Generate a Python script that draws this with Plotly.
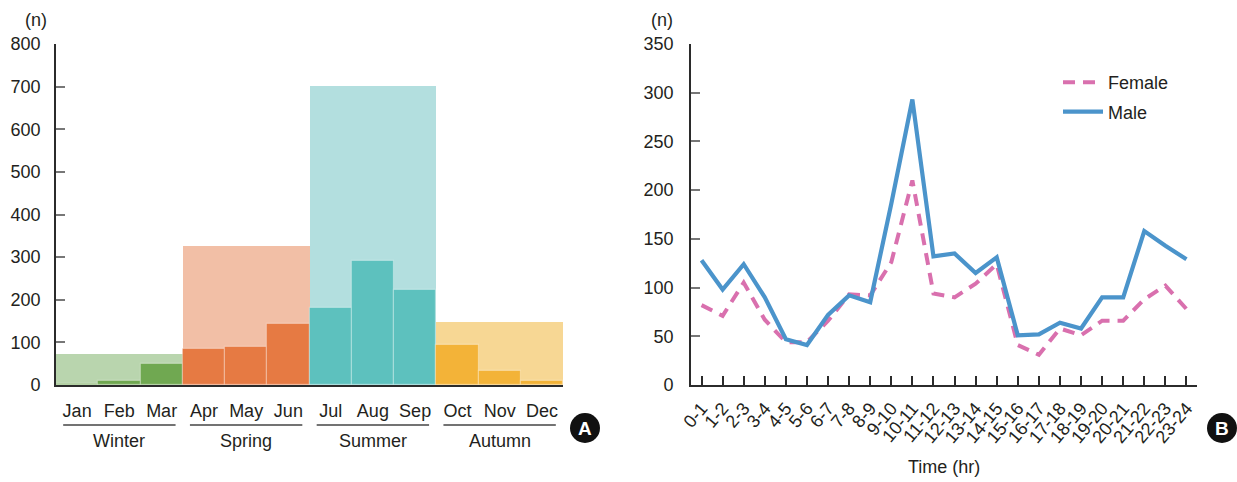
import numpy as np
import plotly.graph_objects as go

# ---------------- data ----------------
months = ["Jan", "Feb", "Mar", "Apr", "May", "Jun", "Jul", "Aug", "Sep", "Oct", "Nov", "Dec"]
month_counts = [2, 10, 50, 84, 90, 143, 180, 290, 222, 95, 33, 10]
seasons = ["Winter", "Spring", "Summer", "Autumn"]
season_counts = [73, 327, 702, 147]

hours = ["0-1", "1-2", "2-3", "3-4", "4-5", "5-6", "6-7", "7-8", "8-9", "9-10", "10-11", "11-12",
         "12-13", "13-14", "14-15", "15-16", "16-17", "17-18", "18-19", "19-20", "20-21", "21-22",
         "22-23", "23-24"]
female = [82, 71, 105, 67, 44, 44, 66, 93, 92, 126, 210, 94,
          90, 104, 124, 41, 31, 58, 51, 66, 66, 88, 102, 78]
male = [128, 98, 124, 90, 47, 41, 72, 92, 85, 186, 293, 132,
        135, 115, 131, 51, 52, 64, 58, 90, 90, 158, 143, 129]

# ---------------- styles ----------------
season_light = ["#b9d5ae", "#f2bfa6", "#b3dfdf", "#f7d794"]
season_dark = ["#70a851", "#e67a43", "#5dc1be", "#f3b338"]
axis_col = "#2b2b2b"
txt_col = "#231f20"
FONT = "Liberation Sans, Arial, sans-serif"

W, H = 1237, 482
def px(x):
    return x / W
def py(y):
    return 1 - y / H

fig = go.Figure()

# ---------------- panel A ----------------
month_idx = np.arange(len(months))
season_of_month = month_idx // 3
season_start = np.arange(len(seasons)) * 3

for s in range(len(seasons)):
    fig.add_trace(go.Bar(
        x=[season_start[s] + 1.5], y=[season_counts[s]], width=[3],
        marker=dict(color=season_light[s], line=dict(width=0)),
        xaxis="x", yaxis="y", showlegend=False, hoverinfo="y"))

for s in range(len(seasons)):
    sel = season_of_month == s
    fig.add_trace(go.Bar(
        x=month_idx[sel] + 0.5, y=np.array(month_counts)[sel], width=[1] * int(sel.sum()),
        marker=dict(color=season_dark[s], line=dict(width=1.2, color="rgba(255,255,255,0.3)")),
        xaxis="x", yaxis="y", showlegend=False, hoverinfo="y"))

# ---------------- panel B ----------------
fig.add_trace(go.Scatter(
    x=hours, y=female, mode="lines", name="Female", legendgroup="f",
    line=dict(color="#d970ae", width=4, dash="12px,8px"),
    xaxis="x2", yaxis="y2"))
fig.add_trace(go.Scatter(
    x=hours, y=male, mode="lines", name="Male", legendgroup="m",
    line=dict(color="#4b94cb", width=4.2),
    xaxis="x2", yaxis="y2"))

dom_y = [py(385), py(44)]
tickfont = dict(family=FONT, size=18, color=txt_col)

fig.update_layout(
    template="none",
    width=W, height=H,
    margin=dict(l=0, r=0, t=0, b=0, autoexpand=False),
    paper_bgcolor="white", plot_bgcolor="white",
    barmode="overlay", bargap=0,
    font=dict(family=FONT, color=txt_col),
    xaxis=dict(domain=[px(56), px(563)], range=[0, 12], anchor="y", automargin=False,
               tickmode="array", tickvals=list(month_idx + 0.5), ticktext=months, ticks="",
               showline=True, linecolor=axis_col, linewidth=1.6,
               showgrid=False, zeroline=False, tickfont=tickfont,
               ticklabelstandoff=9),
    xaxis3=dict(overlaying="x", anchor="y", range=[0, 12], side="bottom", automargin=False,
                tickmode="array", tickvals=list(range(len(months) + 1)), ticks="inside", ticklen=7,
                tickwidth=1.5, tickcolor=axis_col, showticklabels=False,
                showline=False, showgrid=False, zeroline=False),
    yaxis=dict(domain=dom_y, range=[0, 800], anchor="x", dtick=100, automargin=False,
               ticks="inside", ticklen=9, tickwidth=1.5, tickcolor="#777",
               showline=True, linecolor=axis_col, linewidth=1.6,
               showgrid=False, zeroline=False, tickfont=tickfont,
               ticklabelstandoff=10),
    xaxis2=dict(domain=[px(691), px(1197)], range=[-0.5, 23.5], anchor="y2", automargin=False,
                type="category", tickmode="array", tickvals=hours, ticktext=hours,
                ticks="inside", ticklen=9, tickwidth=1.5,
                tickcolor=axis_col, tickangle=-50,
                showline=True, linecolor=axis_col, linewidth=1.6,
                showgrid=False, zeroline=False, tickfont=tickfont,
                ticklabelstandoff=4),
    yaxis2=dict(domain=dom_y, range=[0, 350], anchor="x2", dtick=50, automargin=False,
                ticks="inside", ticklen=9, tickwidth=1.5, tickcolor="#777",
                showline=True, linecolor=axis_col, linewidth=1.6,
                showgrid=False, zeroline=False, tickfont=tickfont,
                ticklabelstandoff=12),
    legend=dict(x=px(1058), y=py(64), xanchor="left", yanchor="top",
                font=dict(family=FONT, size=18, color=txt_col),
                bgcolor="rgba(0,0,0,0)", tracegroupgap=3, itemwidth=40),
)

# x title panel B
fig.add_annotation(x=px(944), y=py(467), xref="paper", yref="paper", text="Time (hr)",
                   showarrow=False, font=dict(family=FONT, size=18, color=txt_col),
                   xanchor="center", yanchor="middle")

# season labels & underlines
for s, name in enumerate(seasons):
    cx = season_start[s] + 1.5
    fig.add_annotation(x=cx, y=py(441), xref="x", yref="paper", text=name,
                       showarrow=False, font=dict(family=FONT, size=18, color=txt_col),
                       xanchor="center", yanchor="middle")
    fig.add_shape(type="line", xref="x", yref="paper",
                  x0=season_start[s] + 0.17, x1=season_start[s] + 3 - 0.17,
                  y0=py(425), y1=py(425), line=dict(color="#444", width=1.5))

# (n) labels
for xx in (px(36), px(662)):
    fig.add_annotation(x=xx, y=py(20), xref="paper", yref="paper", text="(n)",
                       showarrow=False, font=dict(family=FONT, size=18, color=txt_col),
                       xanchor="center", yanchor="middle")

# panel badges
for cx, letter in ((585, "A"), (1222, "B")):
    fig.add_shape(type="circle", xref="paper", yref="paper",
                  x0=px(cx - 15), x1=px(cx + 15), y0=py(428 + 15), y1=py(428 - 15),
                  fillcolor="#111", line=dict(width=0))
    fig.add_annotation(x=px(cx), y=py(428), xref="paper", yref="paper", text="<b>" + letter + "</b>",
                       showarrow=False, font=dict(family=FONT, size=19, color="white"),
                       xanchor="center", yanchor="middle")

fig.write_html("out.html")
